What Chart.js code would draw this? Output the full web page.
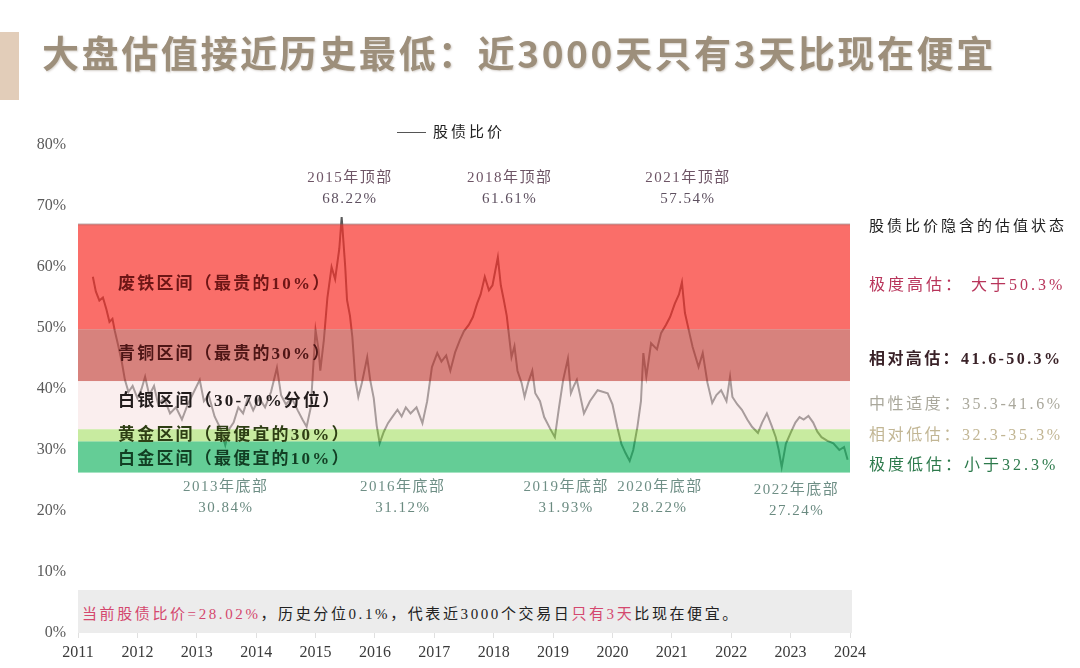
<!DOCTYPE html>
<html>
<head>
<meta charset="utf-8">
<script src="https://cdn.jsdelivr.net/npm/chart.js@4.4.1/dist/chart.umd.min.js"></script>
<style>
  body { margin: 0; background: #fff; }
  #wrap { position: relative; width: 1080px; height: 668px; overflow: hidden; background: #fff; }
  #chart { position: absolute; left: 0; top: 0; }
  .abs { position: absolute; white-space: nowrap; }
  #bar { left: 0; top: 32px; width: 19px; height: 68px; background: #e2cdb9; }
  #title { left: 42px; top: 25px; font: bold 37px "Noto Sans CJK SC"; color: #9d8f7b;
           text-shadow: 1px 1px 2px rgba(90,70,50,0.25); letter-spacing: 2.6px; }
  #legend { left: 397px; top: 120px; font: 15px "Noto Sans CJK SC"; color: #222; letter-spacing: 3px; }
  #legend span { display: inline-block; width: 29px; height: 0; border-top: 1.5px solid #555;
                 vertical-align: middle; margin-right: 7px; }
  #note { left: 78px; top: 590px; width: 774px; height: 43px; background: #ececec; }
  #noteText { left: 82px; top: 602px; font: 15px "Liberation Serif", "Noto Sans CJK SC"; color: #222; letter-spacing: 2.6px; }
  #noteText .r { color: #d4486e; }
  .side { left: 869px; font: 16px "Liberation Serif", "Noto Sans CJK SC"; letter-spacing: 3px; }
</style>
</head>
<body>
<div id="wrap">
  <canvas id="chart" width="1080" height="668"></canvas>
  <div id="bar" class="abs"></div>
  <div id="title" class="abs">大盘估值接近历史最低：近3000天只有3天比现在便宜</div>
  <div id="legend" class="abs"><span></span>股债比价</div>
  <div id="note" class="abs"></div>
  <div id="noteText" class="abs"><span class="r">当前股债比价=28.02%</span>，历史分位0.1%，代表近3000个交易日<span class="r">只有3天</span>比现在便宜。</div>
  <div class="abs side" style="top:214px;font-size:15px;color:#222;">股债比价隐含的估值状态</div>
  <div class="abs side" style="top:271px;color:#b8345a;">极度高估：&nbsp;大于50.3%</div>
  <div class="abs side" style="top:345px;color:#3a2228;font-weight:bold;letter-spacing:2.4px;">相对高估：41.6-50.3%</div>
  <div class="abs side" style="top:390px;color:#aaa89c;letter-spacing:2.6px;">中性适度：35.3-41.6%</div>
  <div class="abs side" style="top:421px;color:#c2b694;letter-spacing:2.6px;">相对低估：32.3-35.3%</div>
  <div class="abs side" style="top:451px;color:#2d7a4c;">极度低估：小于32.3%</div>
</div>
<script>
// stock/bond ratio (decimal year, %)
const years = [
  2011.25, 2011.30, 2011.36, 2011.42, 2011.48, 2011.53, 2011.58, 2011.62, 2011.68, 2011.74,
  2011.79, 2011.85, 2011.92, 2012.00, 2012.07, 2012.13, 2012.20, 2012.28, 2012.35, 2012.45,
  2012.55, 2012.65, 2012.75, 2012.85, 2012.95, 2013.05, 2013.12, 2013.20, 2013.30, 2013.40,
  2013.48, 2013.55, 2013.62, 2013.70, 2013.78, 2013.86, 2013.95, 2014.05, 2014.15, 2014.25,
  2014.35, 2014.42, 2014.50, 2014.60, 2014.70, 2014.78, 2014.85, 2014.92, 2014.97, 2015.00,
  2015.05, 2015.08, 2015.14, 2015.20, 2015.27, 2015.33, 2015.40, 2015.44, 2015.50, 2015.53,
  2015.58, 2015.62, 2015.67, 2015.72, 2015.78, 2015.87, 2015.92, 2015.98, 2016.03, 2016.08,
  2016.15, 2016.22, 2016.30, 2016.38, 2016.45, 2016.52, 2016.60, 2016.70, 2016.80, 2016.88,
  2016.96, 2017.05, 2017.12, 2017.20, 2017.27, 2017.35, 2017.43, 2017.50, 2017.58, 2017.65,
  2017.72, 2017.78, 2017.85, 2017.92, 2017.98, 2018.07, 2018.12, 2018.17, 2018.22, 2018.30,
  2018.35, 2018.40, 2018.47, 2018.52, 2018.58, 2018.65, 2018.70, 2018.78, 2018.85, 2018.95,
  2019.03, 2019.10, 2019.17, 2019.25, 2019.30, 2019.35, 2019.40, 2019.52, 2019.62, 2019.75,
  2019.92, 2020.00, 2020.08, 2020.15, 2020.22, 2020.29, 2020.35, 2020.42, 2020.48, 2020.52,
  2020.57, 2020.65, 2020.75, 2020.82, 2020.90, 2020.97, 2021.05, 2021.12, 2021.17, 2021.22,
  2021.30, 2021.35, 2021.45, 2021.52, 2021.60, 2021.68, 2021.75, 2021.83, 2021.92, 2021.98,
  2022.02, 2022.10, 2022.18, 2022.27, 2022.35, 2022.45, 2022.52, 2022.60, 2022.68, 2022.75,
  2022.80, 2022.85, 2022.92, 2023.00, 2023.08, 2023.15, 2023.22, 2023.30, 2023.38, 2023.45,
  2023.52, 2023.62, 2023.72, 2023.82, 2023.90, 2023.96
];
const ratio = [
  58.4, 56.0, 54.5, 55.0, 53.0, 51.0, 51.5, 49.5, 47.0, 44.3,
  41.5, 39.5, 40.5, 38.5, 40.0, 42.0, 39.0, 40.5, 37.5, 38.5,
  36.0, 37.0, 35.0, 37.5, 39.5, 41.5, 38.0, 39.0, 35.5, 33.5,
  30.8, 33.5, 34.5, 37.0, 36.0, 38.5, 36.5, 38.5, 37.0, 39.5,
  43.5, 39.0, 37.5, 38.5, 36.5, 35.0, 33.8, 37.0, 45.0, 49.7,
  46.5, 43.0, 48.0, 55.0, 60.0, 58.0, 63.0, 68.2, 60.0, 54.6,
  52.0, 48.5, 41.5, 38.7, 41.0, 45.2, 41.5, 38.5, 34.0, 31.1,
  33.0, 34.4, 35.5, 36.6, 35.5, 37.0, 36.0, 37.0, 34.4, 38.0,
  43.6, 45.9, 44.5, 45.5, 43.0, 46.0, 48.0, 49.5, 50.5, 51.8,
  54.0, 55.5, 58.4, 56.2, 57.0, 61.6, 57.0, 54.6, 52.0, 45.2,
  47.0, 43.0, 41.0, 38.7, 41.0, 43.0, 39.3, 38.0, 35.4, 33.5,
  32.1, 37.0, 41.5, 45.0, 39.3, 40.5, 41.5, 36.0, 38.0, 39.8,
  39.3, 37.5, 33.8, 31.0, 29.5, 28.2, 30.0, 33.8, 38.0, 45.9,
  42.0, 47.5, 46.5, 49.2, 50.5, 51.8, 54.0, 55.5, 57.5, 52.5,
  49.0, 46.9, 43.6, 45.9, 41.0, 37.7, 39.0, 39.8, 38.0, 42.0,
  38.7, 37.5, 36.6, 35.0, 33.8, 32.8, 34.5, 36.0, 34.0, 32.1,
  30.0, 27.2, 31.0, 32.8, 34.5, 35.4, 35.0, 35.6, 34.5, 33.0,
  32.1, 31.5, 31.1, 30.0, 30.5, 28.4
];

// valuation zones (upper / lower edge in %)
const bandEdges = [67, 49.8, 41.3, 33.4, 31.4, 26.3];
const bandNames = ["废铁区间（最贵的10%）", "青铜区间（最贵的30%）", "白银区间（30-70%分位）", "黄金区间（最便宜的30%）", "白金区间（最便宜的10%）"];
const bandColors = ["rgba(248,48,42,0.7)", "rgba(202,88,82,0.75)", "rgba(245,221,221,0.5)", "rgba(163,222,97,0.6)", "rgba(34,184,105,0.7)"];
const bandTextColors = ["#6e1616", "#4e1616", "#221c1c", "#2e3e14", "#123f24"];

// peaks and troughs called out on the chart
const peakNames = ["2015年顶部", "2018年顶部", "2021年顶部"];
const peakValues = ["68.22%", "61.61%", "57.54%"];
const peakAt = [2015.58, 2018.27, 2021.27];
const troughNames = ["2013年底部", "2016年底部", "2019年底部", "2020年底部", "2022年底部"];
const troughValues = ["30.84%", "31.12%", "31.93%", "28.22%", "27.24%"];
const troughAt = [2013.49, 2016.47, 2019.22, 2020.80, 2023.10];

const yearTicks = [2011, 2012, 2013, 2014, 2015, 2016, 2017, 2018, 2019, 2020, 2021, 2022, 2023, 2024];

const points = years.map((y, i) => ({ x: y, y: ratio[i] }));

const zones = {
  id: "zones",
  afterDatasetsDraw(chart) {
    const { ctx, chartArea, scales } = chart;
    const x = scales.x, y = scales.y;
    ctx.save();
    for (let i = 0; i < bandNames.length; i++) {
      const top = y.getPixelForValue(bandEdges[i]);
      const bot = y.getPixelForValue(bandEdges[i + 1]);
      ctx.fillStyle = bandColors[i];
      ctx.fillRect(chartArea.left, top, chartArea.right - chartArea.left, bot - top);
    }
    // soft edge on top of the red zone
    ctx.fillStyle = "rgba(120,90,90,0.35)";
    ctx.fillRect(chartArea.left, y.getPixelForValue(bandEdges[0]) - 1, chartArea.right - chartArea.left, 2);

    // zone labels
    ctx.textBaseline = "middle";
    ctx.textAlign = "left";
    ctx.font = 'bold 17px "Liberation Serif", "Noto Sans CJK SC"';
    ctx.letterSpacing = "2.2px";
    const labelY = [285, 355, 402, 436, 460];
    for (let i = 0; i < bandNames.length; i++) {
      ctx.fillStyle = bandTextColors[i];
      ctx.fillText(bandNames[i], 118, labelY[i]);
    }

    // peak / trough call-outs
    ctx.textAlign = "center";
    ctx.font = '15px "Liberation Serif", "Noto Sans CJK SC"';
    ctx.letterSpacing = "1.5px";
    for (let i = 0; i < peakNames.length; i++) {
      const px = x.getPixelForValue(peakAt[i]);
      ctx.fillStyle = "#6e5566";
      ctx.fillText(peakNames[i], px, 178);
      ctx.fillStyle = "#5e5060";
      ctx.fillText(peakValues[i], px, 199);
    }
    for (let i = 0; i < troughNames.length; i++) {
      const px = x.getPixelForValue(troughAt[i]);
      const dy = i === 4 ? 3 : 0;
      ctx.fillStyle = "#6f8f86";
      ctx.fillText(troughNames[i], px, 487 + dy);
      ctx.fillStyle = "#6a8a80";
      ctx.fillText(troughValues[i], px, 508 + dy);
    }
    ctx.restore();
  }
};

new Chart(document.getElementById("chart"), {
  type: "line",
  data: {
    datasets: [
      {
        label: "股债比价",
        data: points,
        borderColor: "#5a5a5a",
        borderWidth: 2,
        pointRadius: 0,
        tension: 0,
        fill: false,
      },
    ],
  },
  options: {
    responsive: false,
    animation: false,
    devicePixelRatio: 1,
    layout: { padding: { left: 0, right: 230, top: 145, bottom: 0 } },
    plugins: { legend: { display: false }, tooltip: { enabled: false } },
    scales: {
      x: {
        type: "linear",
        min: yearTicks[0],
        max: yearTicks[yearTicks.length - 1],
        afterBuildTicks: (s) => { s.ticks = yearTicks.map((v) => ({ value: v })); },
        afterFit: (s) => { s.height = 35; },
        border: { display: false },
        grid: { drawOnChartArea: false, drawTicks: true, tickLength: 5, color: "rgba(0,0,0,0.12)" },
        ticks: {
          callback: (v) => String(v),
          color: "#3a3a3a",
          padding: 5,
          maxRotation: 0,
          autoSkip: false,
          font: { family: '"Liberation Serif"', size: 16 },
        },
      },
      y: {
        min: 0,
        max: 80,
        afterFit: (s) => { s.width = 78; },
        border: { display: false },
        grid: { display: false, drawTicks: false },
        ticks: {
          stepSize: 10,
          callback: (v) => v + "%",
          color: "#5a5a5a",
          padding: 12,
          font: { family: '"Liberation Serif"', size: 16 },
        },
      },
    },
  },
  plugins: [zones],
});
</script>
</body>
</html>
